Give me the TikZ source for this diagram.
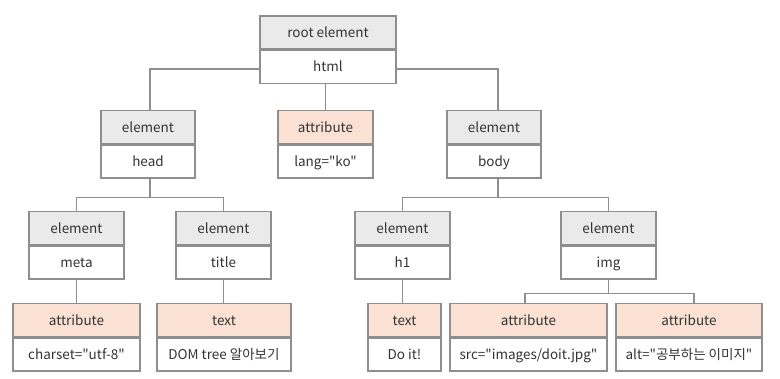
\documentclass[tikz,border=0pt]{standalone}
\usepackage{fontspec}
\setmainfont{Noto Sans CJK KR}[Ligatures=TeXOff]
\usetikzlibrary{calc}
\definecolor{hdrgray}{HTML}{EAEAEA}
\definecolor{hdrpeach}{HTML}{FAE1D3}
\definecolor{bordergray}{HTML}{8E8E8E}
\definecolor{txt}{HTML}{333333}
\begin{document}
\begin{tikzpicture}[x=1pt,y=-1pt,
 cell/.style={draw=bordergray, line width=1.3pt, minimum height=33pt, inner sep=0pt,
   text=txt, font=\fontsize{13.5}{16}\selectfont, text height=11.5pt, text depth=1.5pt, anchor=north},
 elh/.style={cell, fill=hdrgray},
 ath/.style={cell, fill=hdrpeach},
 bod/.style={cell, fill=white},
 wire/.style={draw=bordergray, line width=1.3pt}]
\useasboundingbox (0,0) rectangle (780,379);
\fill[white] (0,0) rectangle (780,379);

% root
\node[elh, minimum width=136pt] (rootH) at (328,15.5) {root element};
\node[bod, minimum width=136pt] (rootB) at (rootH.south) {html};
% level 2
\node[elh, minimum width=94pt] (headH) at (148,110) {element};
\node[bod, minimum width=94pt] (headB) at (headH.south) {head};
\node[ath, minimum width=95pt] (langH) at (325.5,110) {attribute};
\node[bod, minimum width=95pt] (langB) at (langH.south) {lang="ko"};
\node[elh, minimum width=94pt] (bodyH) at (494,110) {element};
\node[bod, minimum width=94pt] (bodyB) at (bodyH.south) {body};
% level 3
\node[elh, minimum width=95pt] (metaH) at (76.5,211) {element};
\node[bod, minimum width=95pt] (metaB) at (metaH.south) {meta};
\node[elh, minimum width=95pt] (titleH) at (223.5,211) {element};
\node[bod, minimum width=95pt] (titleB) at (titleH.south) {title};
\node[elh, minimum width=95pt] (hoH) at (402.5,211) {element};
\node[bod, minimum width=95pt] (hoB) at (hoH.south) {h1};
\node[elh, minimum width=95pt] (imgH) at (608.5,211) {element};
\node[bod, minimum width=95pt] (imgB) at (imgH.south) {img};
% level 4
\node[ath, minimum width=127pt] (csH) at (76.5,303) {attribute};
\node[bod, minimum width=127pt] (csB) at (csH.south) {charset="utf-8"};
\node[ath, minimum width=134pt] (domH) at (224,303) {text};
\node[bod, minimum width=134pt] (domB) at (domH.south) {DOM tree 알아보기};
\node[ath, minimum width=73pt] (doH) at (404.5,303) {text};
\node[bod, minimum width=73pt] (doB) at (doH.south) {Do it!};
\node[ath, minimum width=157pt] (srcH) at (528.5,303) {attribute};
\node[bod, minimum width=157pt] (srcB) at (srcH.south) {src="images/doit.jpg"};
\node[ath, minimum width=146pt] (altH) at (689,303) {attribute};
\node[bod, minimum width=146pt] (altB) at (altH.south) {alt="공부하는 이미지"};

% connectors
\draw[wire] ([yshift=-2pt]rootB.west) -| ([xshift=2pt]headH.north);
\draw[wire] ([yshift=-2pt]rootB.east) -| ([xshift=4pt]bodyH.north);
\draw[wire] (rootB.south -| langH.north) -- (langH.north);

\draw[wire] ([xshift=2pt]headB.south) -- ++(0,19) coordinate (hj);
\draw[wire] (metaH.north) |- (hj) -| (titleH.north);

\draw[wire] ([xshift=4pt]bodyB.south) -- ++(0,19) coordinate (bj);
\draw[wire] (hoH.north) |- (bj) -| (imgH.north);

\draw[wire] (metaB.south) -- (metaB.south |- csH.north);
\draw[wire] (titleB.south) -- (titleB.south |- domH.north);
\draw[wire] (hoB.south) -- (hoB.south |- doH.north);

\draw[wire] (imgB.south) -- ++(0,13.7) coordinate (ij);
\draw[wire] ([xshift=-3.5pt]srcH.north) |- (ij) -| ([xshift=5pt]altH.north);
\end{tikzpicture}
\end{document}
